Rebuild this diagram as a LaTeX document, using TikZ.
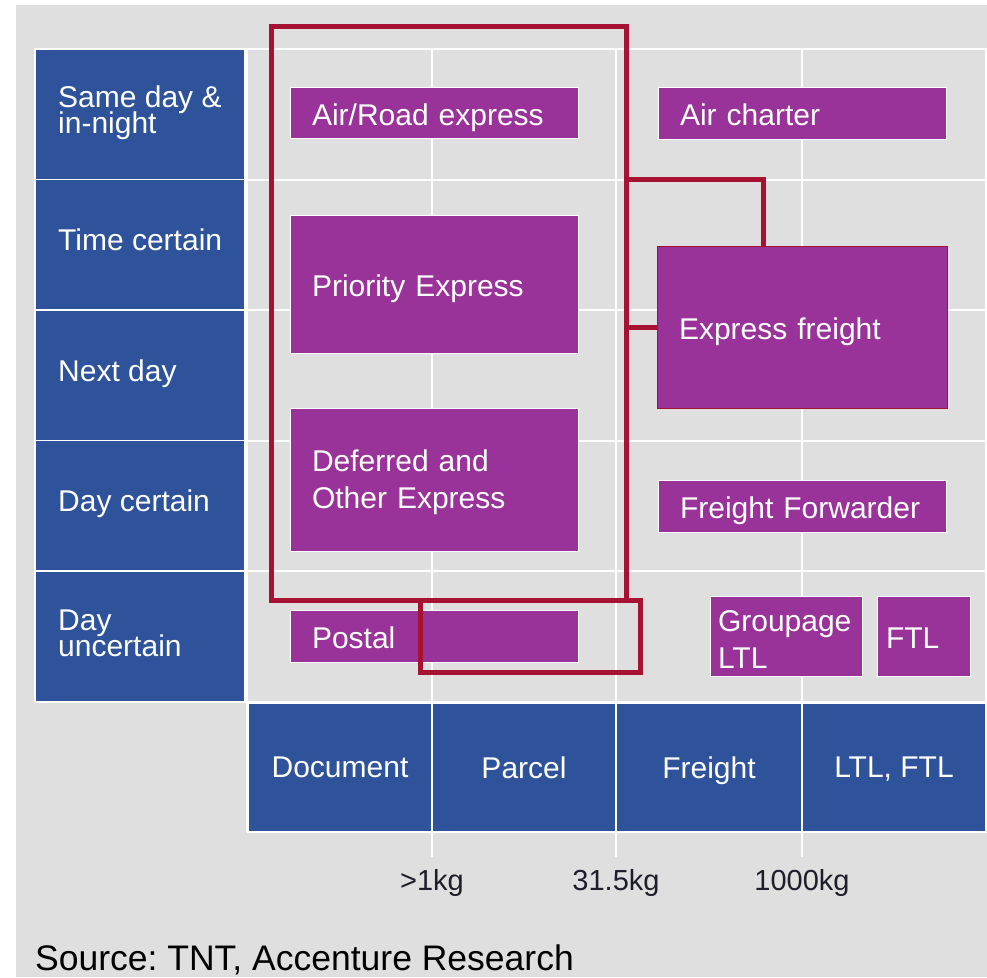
\documentclass[tikz,border=0pt]{standalone}
\usepackage{fontspec}
\setmainfont{Liberation Sans}
\frenchspacing
\definecolor{panelgray}{HTML}{DFDFDF}
\definecolor{axisblue}{HTML}{2E539B}
\definecolor{boxpurple}{HTML}{993399}
\definecolor{framered}{HTML}{A81232}
\definecolor{ticktext}{HTML}{1E1E2A}
\begin{document}
\lineskiplimit=-50pt
\begin{tikzpicture}[x=1pt,y=-1pt,
  rowcell/.style={fill=axisblue, draw=white, line width=1.5pt, minimum width=210pt,
    minimum height=130.5pt, anchor=north west, inner sep=0pt, outer sep=0pt},
  rowlabel/.style={text=white, anchor=west, align=left, inner sep=0pt,
    font=\fontsize{30}{26}\selectfont},
  colcell/.style={fill=axisblue, draw=white, line width=1.5pt, minimum height=129pt,
    anchor=north west, inner sep=0pt, outer sep=0pt, text=white, text depth=0pt,
    font=\fontsize{30}{36}\selectfont},
  service/.style={fill=boxpurple, draw=white, line width=1pt, anchor=north west,
    outer sep=0pt, text=white, align=left, inner ysep=0pt, inner xsep=22pt,
    font=\fontsize{30}{37}\selectfont},
  oneline/.style={text height=25pt, text depth=0pt},
  gridline/.style={white, line width=2pt},
  redline/.style={framered, line width=5pt},
  redbox/.style={draw=framered, line width=5pt, inner sep=0pt, outer sep=0pt,
    anchor=north west},
  tick/.style={text=ticktext, text depth=0pt, inner sep=0pt,
    font=\fontsize{29}{34}\selectfont}
]
\useasboundingbox (0,0) rectangle (987,977);
\fill[white] (0,0) rectangle (987,977);
\fill[panelgray] (16,5) rectangle (987,977);

% grid
\foreach \y in {49,179.5,310,440.5,571,701.5}
  \draw[gridline] (35,\y) -- (987,\y);
\foreach \x in {432,616,802}
  \draw[gridline] (\x,49) -- (\x,857);
\draw[gridline] (246.5,49) -- (246.5,832);
\draw[gridline] (985.5,49) -- (985.5,832);

% delivery time axis
\node[rowcell] (sameday)   at (35,49) {};
\node[rowcell] (timecert)  at (35,179.5) {};
\node[rowcell] (nextday)   at (35,310) {};
\node[rowcell] (daycert)   at (35,440.5) {};
\node[rowcell] (dayuncert) at (35,571) {};
\node[rowlabel] (lsameday) at ([xshift=23pt,yshift=2pt]sameday.west) {Same day \&\\in-night};
\node[rowlabel, text depth=0pt] (ltimecert) at ([xshift=23pt,yshift=4.75pt]timecert.west) {Time certain};
\node[rowlabel, text depth=0pt] (lnextday) at ([xshift=23pt,yshift=4.75pt]nextday.west) {Next day};
\node[rowlabel, text depth=0pt] (ldaycert) at ([xshift=23pt,yshift=4.75pt]daycert.west) {Day certain};
\node[rowlabel] (ldayuncert) at ([xshift=23pt,yshift=3pt]dayuncert.west) {Day\\uncertain};

% shipment type axis
\node[colcell, minimum width=184pt] (document) at (248,703) {Document};
\node[colcell, minimum width=184pt] (parcel)   at (432,703) {Parcel};
\node[colcell, minimum width=186pt] (freight)  at (616,703) {Freight};
\node[colcell, minimum width=184pt] (ltlftl)   at (802,703) {LTL, FTL};

% weight thresholds
\node[tick] (w1) at (432,879.5) {>1kg};
\node[tick] (w2) at (616,879.5) {31.5kg};
\node[tick] (w3) at (802,879.5) {1000kg};

% services
\node[service, oneline, minimum width=288pt, minimum height=51pt, text width=244pt] (airroad) at (290,87) {Air/Road express};
\node[service, oneline, minimum width=288pt, minimum height=52pt, text width=244pt] (aircharter) at (658,87) {Air charter};
\node[service, oneline, minimum width=288pt, minimum height=138pt, text width=244pt] (priority) at (290,215) {Priority Express};
\node[service, oneline, draw=framered, minimum width=290pt, minimum height=162pt, text width=246pt] (expfreight) at (657,246) {Express freight};
\node[service, minimum width=288pt, minimum height=143pt, text width=244pt] (deferred) at (290,408) {\rule{0pt}{28pt}Deferred and\\Other Express};
\node[service, oneline, minimum width=288pt, minimum height=52pt, text width=244pt] (forwarder) at (658,480) {Freight Forwarder};
\node[service, oneline, minimum width=288pt, minimum height=52pt, text width=244pt] (postal) at (290,610) {Postal};
\node[service, minimum width=152pt, minimum height=80pt, inner xsep=8pt, text width=136pt] (groupage) at (710,596) {\rule{0pt}{28pt}Groupage\\LTL};
\node[service, oneline, minimum width=93pt, minimum height=80pt, inner xsep=9pt, text width=75pt] (ftl) at (877,596) {FTL};

% express segment frames
\node[redbox, minimum width=355pt, minimum height=574pt] (expressframe) at (271,26) {};
\node[redbox, minimum width=220pt, minimum height=72pt] (postalframe) at (420,600) {};
\draw[redline] ([yshift=-153pt]expressframe.north east) -| ([xshift=106pt]expfreight.north west);
\draw[redline] (expressframe.east |- expfreight.west) -- (expfreight.west);

% source line
\node[anchor=base west, inner sep=0pt, text=black, font=\fontsize{35.5}{40}\selectfont] (source) at (35,970) {Source: TNT, Accenture Research};
\end{tikzpicture}
\end{document}
